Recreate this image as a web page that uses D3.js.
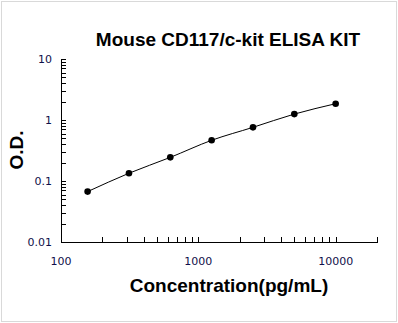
<!DOCTYPE html>
<html>
<head>
<meta charset="utf-8">
<script src="https://cdn.jsdelivr.net/npm/d3@7"></script>
<style>
  body { margin: 0; background: #fff; }
  svg { display: block; }
</style>
</head>
<body>
<div class="result"></div>
<script>
// Width and height
const w = 398;
const h = 323;

// Standard curve data
const concentrations = [156.25, 312.5, 625, 1250, 2500, 5000, 10000];
const odValues = [0.067, 0.134, 0.244, 0.465, 0.758, 1.25, 1.85];
const xTickLabels = [100, 1000, 10000];
const yTickLabels = [0.01, 0.1, 1, 10];

const plotLeft = 61, plotRight = 377, plotTop = 59, plotBottom = 242;

// Scales
const xScale = d3.scaleLog()
  .domain([100, 20000])
  .range([plotLeft, plotRight]);

const yScale = d3.scaleLog()
  .domain([0.01, 10])
  .range([plotBottom, plotTop]);

const svg = d3.select('.result')
  .append('svg')
  .attr('width', w)
  .attr('height', h);

// Outer frame
svg.append('rect')
  .attr('x', 1.5).attr('y', 1.5)
  .attr('width', w - 3).attr('height', h - 3)
  .attr('fill', 'none')
  .attr('stroke', '#d9d9d9');

// minor ticks for log axes
const xMinor = [];
for (let d = 100; d < 20000; d *= 10) {
  for (let k = 1; k < 10; k++) {
    if (d * k <= 20000) xMinor.push(d * k);
  }
}
xMinor.push(20000);
const yMinor = [];
for (let d = 0.01; d < 10; d *= 10) {
  for (let k = 1; k < 10; k++) yMinor.push(d * k);
}
yMinor.push(10);

// X axis
const xAxis = d3.axisBottom(xScale)
  .tickValues(xMinor)
  .tickSize(-5)
  .tickFormat('');
const gx = svg.append('g')
  .attr('transform', 'translate(0,' + plotBottom + ')')
  .call(xAxis);
gx.select('.domain').attr('d', 'M' + plotLeft + ',0H' + (plotRight + 0.5));

// Y axis
const yAxis = d3.axisLeft(yScale)
  .tickValues(yMinor)
  .tickSize(-5)
  .tickFormat('');
const gy = svg.append('g')
  .attr('transform', 'translate(' + plotLeft + ',0)')
  .call(yAxis);
gy.select('.domain').attr('d', 'M0,' + (plotTop - 0.5) + 'V' + (plotBottom + 0.5));

svg.selectAll('.domain, .tick line')
  .attr('stroke', '#000')
  .attr('stroke-width', 1)
  .attr('shape-rendering', 'crispEdges');

// Tick labels
svg.selectAll('.xlab')
  .data(xTickLabels)
  .enter()
  .append('text')
  .attr('x', d => xScale(d))
  .attr('y', 265)
  .attr('text-anchor', 'middle')
  .attr('font-family', 'DejaVu Sans, Verdana, sans-serif')
  .attr('font-size', 11)
  .attr('fill', '#10104a')
  .text(d => d);

svg.selectAll('.ylab')
  .data(yTickLabels)
  .enter()
  .append('text')
  .attr('x', 52)
  .attr('y', d => yScale(d) + 4)
  .attr('text-anchor', 'end')
  .attr('font-family', 'DejaVu Sans, Verdana, sans-serif')
  .attr('font-size', 11)
  .attr('fill', '#10104a')
  .text(d => d);

// Curve
const line = d3.line()
  .x((d, i) => xScale(concentrations[i]))
  .y(d => yScale(d))
  .curve(d3.curveMonotoneX);

svg.append('path')
  .datum(odValues)
  .attr('fill', 'none')
  .attr('stroke', '#000')
  .attr('stroke-width', 1)
  .attr('d', line);

// Points
svg.selectAll('circle')
  .data(odValues)
  .enter()
  .append('circle')
  .attr('cx', (d, i) => xScale(concentrations[i]))
  .attr('cy', d => yScale(d))
  .attr('r', 3.3)
  .attr('fill', '#000');

// Titles
svg.append('text')
  .attr('x', 228)
  .attr('y', 46)
  .attr('text-anchor', 'middle')
  .attr('font-family', 'Liberation Sans, Arial, sans-serif')
  .attr('font-weight', 'bold')
  .attr('font-size', 19)
  .text('Mouse CD117/c-kit ELISA KIT');

svg.append('text')
  .attr('x', 229)
  .attr('y', 292)
  .attr('text-anchor', 'middle')
  .attr('font-family', 'Liberation Sans, Arial, sans-serif')
  .attr('font-weight', 'bold')
  .attr('font-size', 19)
  .text('Concentration(pg/mL)');

svg.append('text')
  .attr('transform', 'translate(23,150) rotate(-90)')
  .attr('text-anchor', 'middle')
  .attr('font-family', 'Liberation Sans, Arial, sans-serif')
  .attr('font-weight', 'bold')
  .attr('font-size', 19)
  .text('O.D.');
</script>
</body>
</html>
